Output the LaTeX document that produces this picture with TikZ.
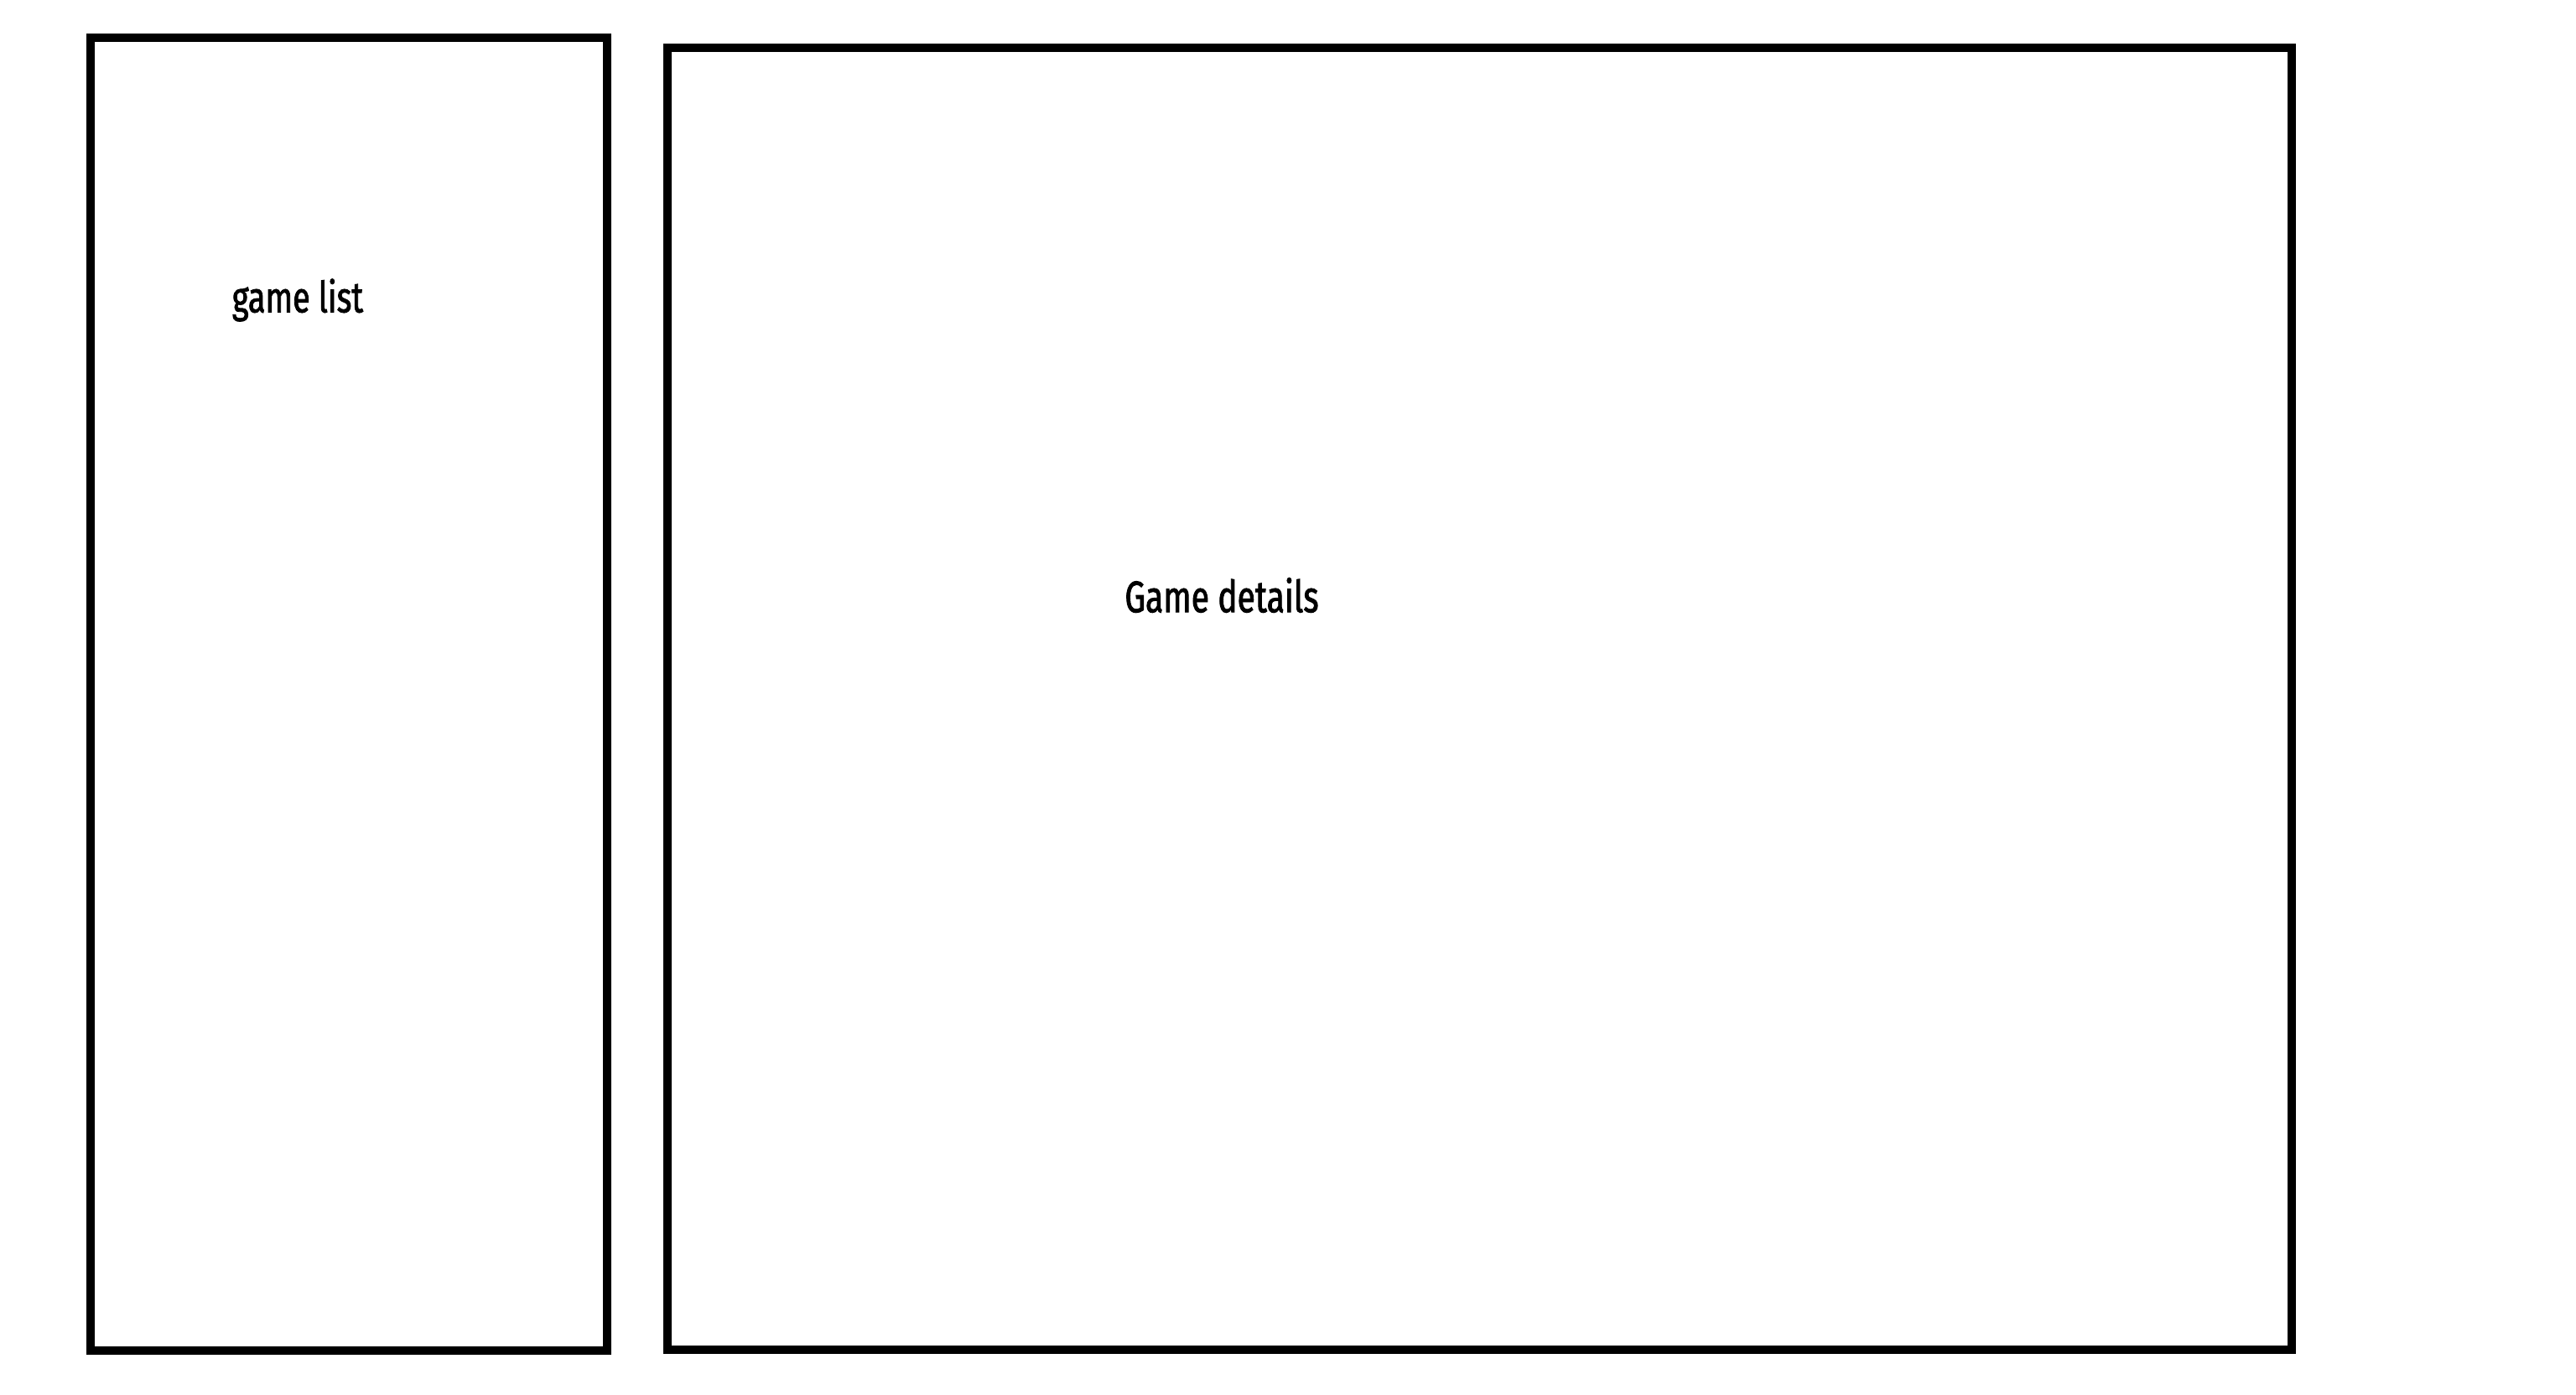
\documentclass[tikz,border=0pt]{standalone}
\usepackage{fontspec}
\usepackage{tikz}
\usetikzlibrary{positioning}
\newfontfamily\panelfont[FakeStretch=0.74,FakeBold=1.6]{Fira Sans}
\tikzset{
    every node/.style={font=\panelfont},
    panel/.style={rectangle,draw=black,line width=2.85pt,inner sep=0pt},
    caption/.style={inner sep=0pt,text=black}
}

\begin{document}
\begin{tikzpicture}
    \useasboundingbox (0,0) rectangle (30.72,-16.64);
    \node[panel,minimum width=6.16cm,minimum height=15.66cm] (list) at (4.16,-8.28) {};
    \node[panel,minimum width=19.37cm,minimum height=15.53cm] (details) at (17.645,-8.335) {};
    \node[caption,font=\panelfont\fontsize{14.6}{17}\selectfont] (listtxt) at (3.55,-3.58) {game list};
    \node[caption,font=\panelfont\fontsize{15}{18}\selectfont] (detailstxt) at (14.57,-7.10) {Game details};
\end{tikzpicture}
\end{document}
